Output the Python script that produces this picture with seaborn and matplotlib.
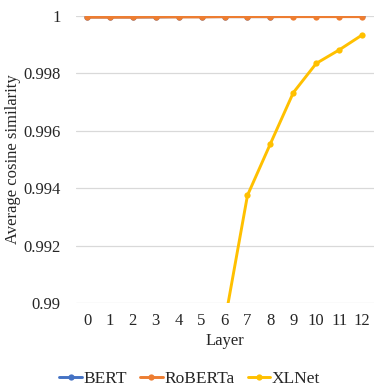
import numpy as np
import pandas as pd
import matplotlib
matplotlib.use("Agg")
import matplotlib.pyplot as plt
from matplotlib.lines import Line2D
import seaborn as sns

layers = list(range(13))
bert = [0.99997, 0.99997, 0.99997, 0.99997, 0.99998, 0.99998, 0.99998,
        0.99998, 0.99998, 0.99999, 0.99999, 0.99999, 0.99999]
roberta = [0.99996, 0.99996, 0.99996, 0.99997, 0.99997, 0.99997, 0.99998,
           0.99998, 0.99998, 0.99998, 0.99998, 0.99998, 0.99998]
xlnet_layers = [6, 7, 8, 9, 10, 11, 12]
xlnet = [0.98930, 0.99375, 0.99555, 0.99733, 0.99835, 0.99882, 0.99934]
yticks = [0.99, 0.992, 0.994, 0.996, 0.998, 1.0]
ytick_labels = ["0.99", "0.992", "0.994", "0.996", "0.998", "1"]

df = pd.concat([
    pd.DataFrame({"Layer": layers, "sim": bert, "model": "BERT"}),
    pd.DataFrame({"Layer": layers, "sim": roberta, "model": "RoBERTa"}),
    pd.DataFrame({"Layer": xlnet_layers, "sim": xlnet, "model": "XLNet"}),
])

sns.set_style("white")
plt.rcParams['font.family'] = ['Liberation Serif', 'DejaVu Serif']

fig = plt.figure(figsize=(3.82, 3.92), dpi=100)
ax = fig.add_axes([0.199, 0.227, 0.78, 0.732])

pal = {"BERT": "#4472C4", "RoBERTa": "#ED7D31", "XLNet": "#FFC000"}
sns.lineplot(data=df, x="Layer", y="sim", hue="model", palette=pal,
             marker="o", markersize=4.5, markeredgewidth=0, linewidth=2.1,
             ax=ax, legend=False)

ax.set_xlim(-0.48, 12.52)
ax.set_ylim(0.99, 1.0)
ax.set_yticks(yticks)
ax.set_yticklabels(ytick_labels)
ax.set_xticks(layers)
ax.tick_params(axis="y", labelsize=12, length=0, pad=11)
ax.tick_params(axis="x", labelsize=12, length=0, pad=7)
ax.grid(axis="y", color="#D9D9D9", linewidth=0.9)
ax.grid(axis="x", visible=False)
ax.set_axisbelow(True)
for s in ax.spines.values():
    s.set_visible(False)
ax.set_xlabel("Layer", fontsize=12, labelpad=3)
ax.set_ylabel("Average cosine similarity", fontsize=12, labelpad=2)

handles = [Line2D([0], [0], color=c, marker="o", markersize=4.5,
                  markeredgewidth=0, linewidth=2.1) for c in pal.values()]
fig.legend(handles, list(pal.keys()), loc="center", bbox_to_anchor=(0.497, 0.034),
           ncol=3, frameon=False, fontsize=12.5, handlelength=1.3,
           handletextpad=0.1, columnspacing=0.75)

fig.savefig("out.png", dpi=100)
